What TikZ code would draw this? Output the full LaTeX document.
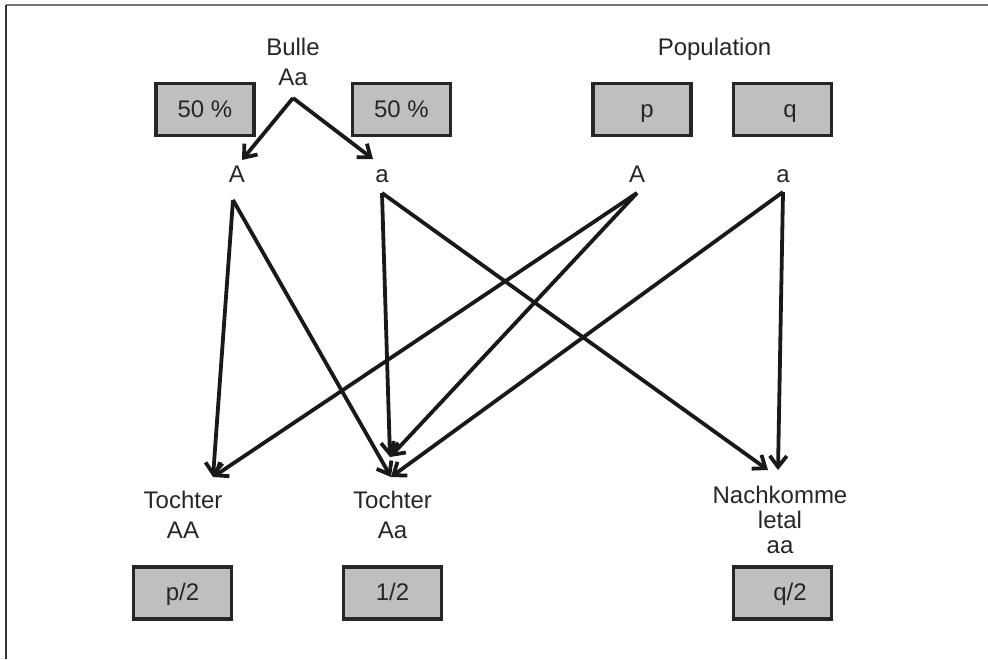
\documentclass[tikz,border=0pt]{standalone}
\usepackage{fontspec}
\setmainfont{Liberation Sans}
\usetikzlibrary{arrows.meta,positioning}

\begin{document}
\begin{tikzpicture}[x=1pt, y=-1pt,
      >={Straight Barb[length=11pt,width=17pt]},
      every node/.append style={align=center, text=black!85,
        font=\fontsize{24}{30}\selectfont},
      prob/.style={draw=black!85, fill=black!25, line width=3.5pt,
        minimum width=98pt, minimum height=52pt, inner sep=0pt,
        text height=20pt, text depth=5pt},
      gen/.style={->, line width=3.8pt, black!90}]
  \useasboundingbox (0,0) rectangle (988,659);
  \draw[black!55, line width=2pt] (988,4.5) -- (5.5,4.5);
  \draw[black!80, line width=2pt] (5.5,4.5) -- (5.5,659);

  % Bulle
  \node [anchor=base] (bulle) at (293,85) {Bulle\\Aa};
  \node [prob] (pb1) at (205,109.5) {50 \%};
  \node [prob] (pb2) at (401.5,109.5) {50 \%};
  \node [anchor=base] (bA) at (237,182) {A};
  \node [anchor=base] (ba) at (382,182) {a};

  % Population
  \node [anchor=base] (pop) at (714.5,55) {Population};
  \node [prob] (pp) at (642,109.5) {\hspace*{10pt}p};
  \node [prob] (pq) at (782.5,109.5) {\hspace*{15pt}q};
  \node [anchor=base] (pA) at (637,182) {A};
  \node [anchor=base] (pa) at (783,182) {a};

  % Nachkommen
  \node [anchor=base] (tAA) at (183,538) {Tochter\\AA};
  \node [anchor=base] (tAa) at (392.5,538) {Tochter\\Aa};
  \node [anchor=base, font=\fontsize{24}{25}\selectfont] (naa) at (780,553)
        {Nachkomme\\letal\\aa};
  \node [prob] (fAA) at (182.5,593) {p/2};
  \node [prob] (fAa) at (392.5,593) {1/2};
  \node [prob] (faa) at (782.5,593) {\hspace*{15pt}q/2};

  \coordinate (split) at (293,98);
  \coordinate (bA-out) at (233,200);
  \coordinate (ba-out) at (382,193);
  \coordinate (pA-out) at (637,193);
  \coordinate (pa-out) at (783,192);
  \coordinate (tAA-in) at (213,477);
  \coordinate (tAa-in1) at (390,457);
  \coordinate (tAa-in2) at (391,477);
  \coordinate (naa-in1) at (768,470);
  \coordinate (naa-in2) at (778,470);

  \draw[gen] (split) -- (242,160);
  \draw[gen] (split) -- (373,159);
  \path[gen] (bA-out) edge (tAA-in)
             (bA-out) edge (tAa-in2)
             (ba-out) edge (tAa-in1)
             (ba-out) edge (naa-in1)
             (pA-out) edge (tAA-in)
             (pA-out) edge (tAa-in1)
             (pa-out) edge (tAa-in2)
             (pa-out) edge (naa-in2);
\end{tikzpicture}
\end{document}
